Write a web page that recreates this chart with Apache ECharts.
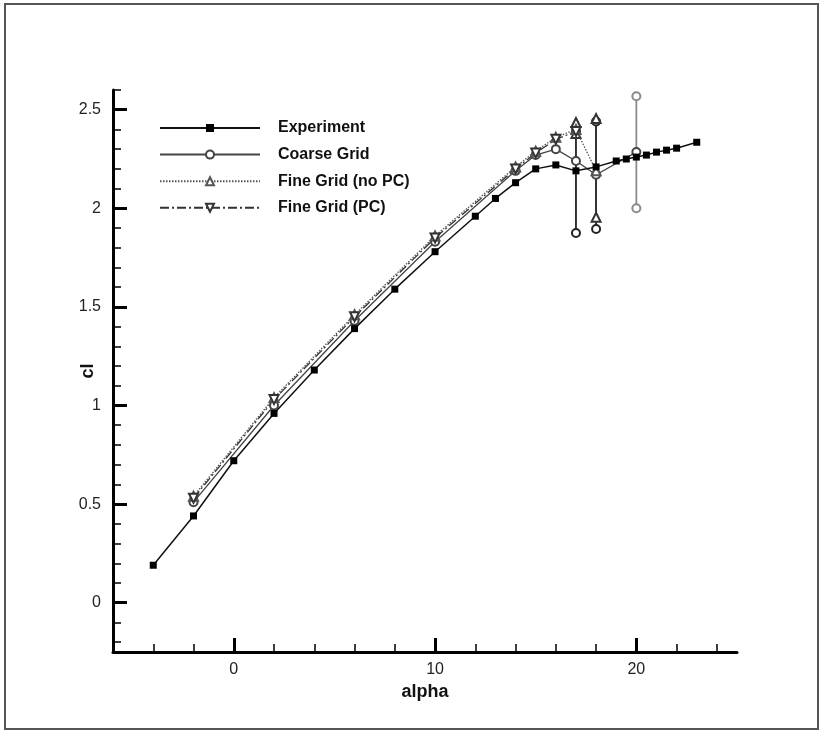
<!DOCTYPE html>
<html>
<head>
<meta charset="utf-8">
<script src="https://cdn.jsdelivr.net/npm/echarts@6/dist/echarts.min.js"></script>
<style>html,body{margin:0;padding:0;background:#fff}#c{width:825px;height:731px}</style>
</head>
<body>
<div id="c"></div>
<script>
// ---- data ----
const expAlpha = [-4, -2, 0, 2, 4, 6, 8, 10, 12, 13, 14, 15, 16, 17, 18, 19, 19.5, 20, 20.5, 21, 21.5, 22, 23];
const expCl    = [0.19, 0.44, 0.72, 0.96, 1.18, 1.39, 1.59, 1.78, 1.96, 2.05, 2.13, 2.20, 2.22, 2.19, 2.21, 2.24, 2.25, 2.26, 2.27, 2.285, 2.295, 2.305, 2.335];

const coarseAlpha = [-2, 2, 6, 10, 14, 15, 16, 17, 18, 20];
const coarseCl    = [0.51, 1.00, 1.43, 1.83, 2.19, 2.27, 2.30, 2.24, 2.17, 2.285];
const coarseErrAlpha = [17, 18, 20];
const coarseErrLow   = [1.875, 1.895, 2.00];
const coarseErrHigh  = [2.39, 2.44, 2.568];

const noPcAlpha = [-2, 2, 6, 10, 14, 15, 16, 17, 18];
const noPcCl    = [0.54, 1.04, 1.46, 1.86, 2.21, 2.29, 2.36, 2.40, 2.19];
const noPcErrAlpha = [17, 18];
const noPcErrLow   = [2.38, 1.955];
const noPcErrHigh  = [2.435, 2.455];

const pcAlpha = [-2, 2, 6, 10, 14, 15, 16, 17];
const pcCl    = [0.53, 1.03, 1.45, 1.85, 2.20, 2.28, 2.35, 2.39];

const xMajorTicks = [0, 10, 20];
const xMinorTicks = [-4, -2, 2, 4, 6, 8, 12, 14, 16, 18, 22, 24];
const yMajorTicks = [0, 0.5, 1, 1.5, 2, 2.5];
const yMinorTicks = [-0.2, -0.1, 0.1, 0.2, 0.3, 0.4, 0.6, 0.7, 0.8, 0.9, 1.1, 1.2, 1.3, 1.4, 1.6, 1.7, 1.8, 1.9, 2.1, 2.2, 2.3, 2.4, 2.6];

const names = ['Experiment', 'Coarse Grid', 'Fine Grid (no PC)', 'Fine Grid (PC)'];

// ---- chart ----
const zip = (a, b) => a.map((v, i) => [v, b[i]]);
const FONT = '"Liberation Sans", Arial, sans-serif';
const chart = echarts.init(document.getElementById('c'), null, {renderer: 'canvas'});

const series = [];
function errBars(alphas, lows, highs, symbol, size, colorFn) {
  alphas.forEach((a, i) => {
    series.push({
      type: 'line', silent: true, legendHoverLink: false,
      data: [[a, lows[i]], [a, highs[i]]],
      symbol: symbol, symbolSize: size, showSymbol: true,
      itemStyle: {color: colorFn(a), borderWidth: 1.3},
      lineStyle: {color: colorFn(a), width: 1.8},
      z: 2, animation: false
    });
  });
}
errBars(coarseErrAlpha, coarseErrLow, coarseErrHigh, 'emptyCircle', 8, a => a === 20 ? '#8a8a8a' : '#222');
errBars(noPcErrAlpha, noPcErrLow, noPcErrHigh, 'emptyTriangle', 9, a => '#333');

series.push({
  name: names[1], type: 'line', data: zip(coarseAlpha, coarseCl),
  symbol: 'emptyCircle', symbolSize: 8,
  itemStyle: {color: '#444', borderWidth: 1.3},
  lineStyle: {color: '#444', width: 1.3}, z: 3, animation: false
});
series.push({
  name: names[2], type: 'line', data: zip(noPcAlpha, noPcCl),
  symbol: 'emptyTriangle', symbolSize: 9,
  itemStyle: {color: '#555', borderWidth: 1.3},
  lineStyle: {color: '#555', width: 1.3, type: [1.5, 1.5]}, z: 3, animation: false
});
series.push({
  name: names[3], type: 'line', data: zip(pcAlpha, pcCl),
  symbol: 'emptyTriangle', symbolRotate: 180, symbolSize: 9,
  itemStyle: {color: '#333', borderWidth: 1.3},
  lineStyle: {color: '#333', width: 1.3, type: [9, 3, 2, 3]}, z: 3, animation: false
});
series.push({
  name: names[0], type: 'line', data: zip(expAlpha, expCl),
  symbol: 'rect', symbolSize: 7,
  itemStyle: {color: '#000'},
  lineStyle: {color: '#111', width: 1.5}, z: 4, animation: false
});

const axisText = {color: '#222', fontSize: 16, fontFamily: FONT};
chart.setOption({
  animation: false,
  backgroundColor: '#fff',
  grid: {left: 113, right: 88, top: 90, bottom: 79, containLabel: false},
  legend: {
    data: names, orient: 'vertical', left: 154, top: 115,
    itemWidth: 100, itemHeight: 10, itemGap: 10.6,
    textStyle: {fontSize: 16, fontWeight: 'bold', fontFamily: FONT, color: '#111', padding: [0, 0, 0, 13]},
    selectedMode: false
  },
  xAxis: [{
    type: 'value', min: -6, max: 25,
    name: 'alpha', nameLocation: 'middle', nameGap: 31, nameMoveOverlap: false,
    nameTextStyle: {fontSize: 18, fontWeight: 'bold', fontFamily: FONT, color: '#111'},
    axisLine: {onZero: false, lineStyle: {color: '#000', width: 3}},
    axisTick: {inside: true, length: 14, lineStyle: {color: '#000', width: 3}, customValues: xMajorTicks},
    axisLabel: Object.assign({customValues: xMajorTicks, margin: 10}, axisText),
    splitLine: {show: false}
  }, {
    type: 'value', min: -6, max: 25, position: 'bottom',
    axisLine: {show: false, onZero: false},
    axisTick: {inside: true, length: 8, lineStyle: {color: '#000', width: 1.5}, customValues: xMinorTicks},
    axisLabel: {show: false}, splitLine: {show: false}
  }],
  yAxis: [{
    type: 'value', min: -0.25, max: 2.6,
    name: 'cl', nameLocation: 'middle', nameGap: 16, nameRotate: 90, nameMoveOverlap: false,
    nameTextStyle: {fontSize: 18, fontWeight: 'bold', fontFamily: FONT, color: '#111'},
    axisLine: {show: true, onZero: false, lineStyle: {color: '#000', width: 3}},
    axisTick: {show: true, inside: true, length: 14, lineStyle: {color: '#000', width: 3}, customValues: yMajorTicks},
    axisLabel: Object.assign({customValues: yMajorTicks, margin: 12}, axisText),
    splitLine: {show: false}
  }, {
    type: 'value', min: -0.25, max: 2.6, position: 'left',
    axisLine: {show: false, onZero: false},
    axisTick: {show: true, inside: true, length: 8, lineStyle: {color: '#000', width: 1.5}, customValues: yMinorTicks},
    axisLabel: {show: false}, splitLine: {show: false}
  }],
  graphic: [{
    type: 'rect', shape: {x: 5, y: 4, width: 813, height: 725},
    style: {fill: 'none', stroke: '#555', lineWidth: 2}, silent: true, z: -10
  }],
  series: series
});
</script>
</body>
</html>
